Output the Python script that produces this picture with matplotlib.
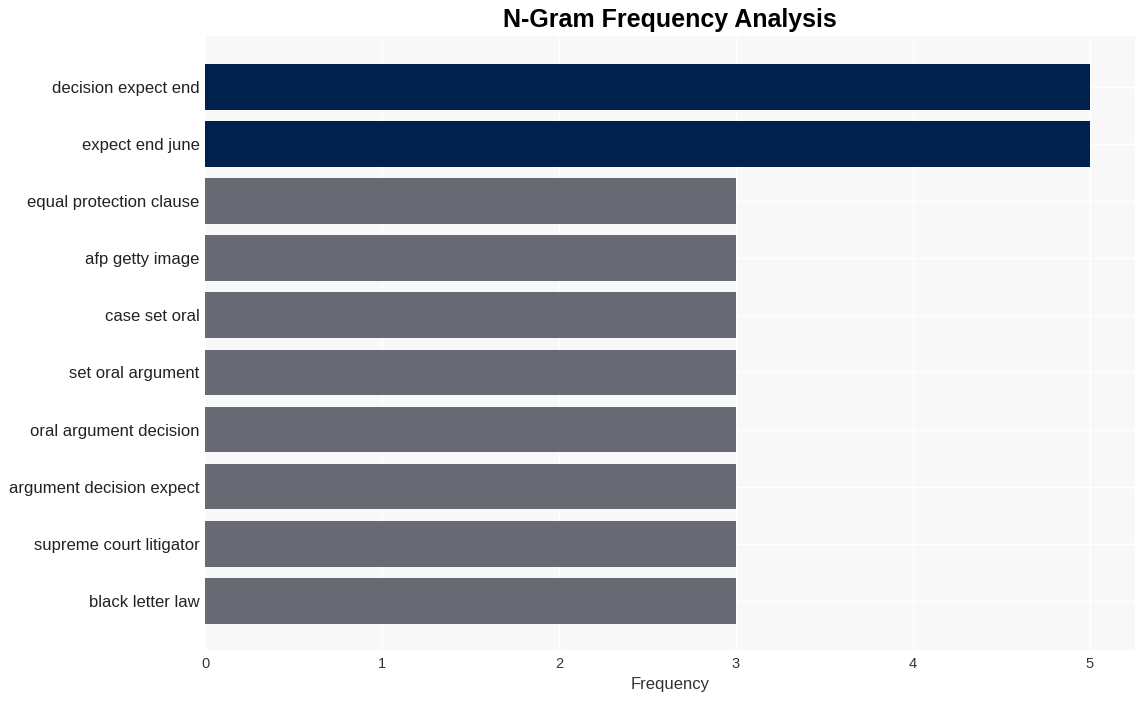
import matplotlib
matplotlib.use("Agg")
import matplotlib.pyplot as plt

plt.rcParams['font.family'] = ['Liberation Sans', 'DejaVu Sans']

labels = ["decision expect end", "expect end june", "equal protection clause",
          "afp getty image", "case set oral", "set oral argument",
          "oral argument decision", "argument decision expect",
          "supreme court litigator", "black letter law"]
values = [5, 5, 3, 3, 3, 3, 3, 3, 3, 3]
colors = ["#00214d" if v == 5 else "#676a72" for v in values]

fig = plt.figure(figsize=(11.44, 7.01), dpi=100)
ax = fig.add_axes([205/1144, 1-650/701, (1135-205)/1144, (650-36)/701])
ax.set_facecolor("#f8f8f8")
ypos = list(range(len(labels)))
ax.barh(ypos, values, height=0.8, color=colors, zorder=2)
ax.set_yticks(ypos)
ax.set_yticklabels(labels, fontsize=12, color="#222222")
ax.set_ylim(9.86, -0.89)
ax.set_xlim(0, 5.255)
ax.set_xticks([0, 1, 2, 3, 4, 5])
ax.tick_params(axis='x', labelsize=10.5, colors="#333333", length=0, pad=5)
ax.tick_params(axis='y', length=0, pad=4)
ax.grid(True, color="white", linewidth=1, zorder=1)
for s in ax.spines.values():
    s.set_visible(False)
ax.set_xlabel("Frequency", fontsize=12, color="#333333", labelpad=4)
fig.text((205+1135)/2/1144, 1-20/701, "N-Gram Frequency Analysis", ha='center', va='center',
         fontsize=18, fontweight='bold', color="black")
fig.savefig("out.png", dpi=100, facecolor="white")
